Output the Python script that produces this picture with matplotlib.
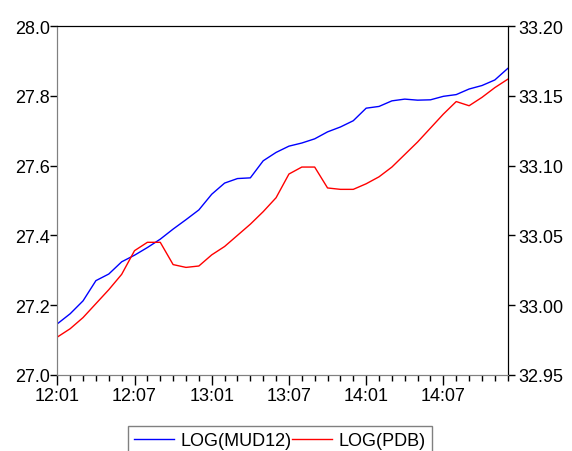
import matplotlib
matplotlib.use('Agg')
import matplotlib.pyplot as plt
from matplotlib.ticker import MultipleLocator, FormatStrFormatter

plt.rcParams['font.family'] = ['Liberation Sans', 'DejaVu Sans']

# periods 12:01 .. 14:12
periods = ['%d:%02d' % (y, m) for y in (12, 13, 14) for m in range(1, 13)]

mud12 = [27.146, 27.175, 27.212, 27.270, 27.289, 27.324, 27.343, 27.365, 27.389,
         27.418, 27.445, 27.473, 27.518, 27.550, 27.563, 27.565, 27.614, 27.638,
         27.656, 27.665, 27.677, 27.697, 27.711, 27.729, 27.765, 27.770, 27.786,
         27.791, 27.788, 27.789, 27.799, 27.804, 27.820, 27.830, 27.846, 27.879]

pdb = [32.977, 32.983, 32.991, 33.001, 33.011, 33.022, 33.039, 33.045, 33.045,
       33.029, 33.027, 33.028, 33.036, 33.042, 33.050, 33.058, 33.067, 33.077,
       33.094, 33.099, 33.099, 33.084, 33.083, 33.083, 33.087, 33.092, 33.099,
       33.108, 33.117, 33.127, 33.137, 33.146, 33.143, 33.149, 33.156, 33.162]

x = list(range(len(periods)))

fig = plt.figure(figsize=(5.72, 4.52), dpi=100)
ax = fig.add_axes([0.1002, 0.1688, 0.7874, 0.7708])
ax2 = ax.twinx()

l1, = ax.plot(x, mud12, color='#0000ff', lw=1.0, label='LOG(MUD12)')
l2, = ax2.plot(x, pdb, color='#ff0000', lw=1.0, label='LOG(PDB)')

ax.set_xlim(0, len(x) - 1)
ax.set_ylim(27.0, 28.0)
ax2.set_ylim(32.95, 33.20)
ax.yaxis.set_major_locator(MultipleLocator(0.2))
ax.yaxis.set_major_formatter(FormatStrFormatter('%.1f'))
ax2.yaxis.set_major_locator(MultipleLocator(0.05))
ax2.yaxis.set_major_formatter(FormatStrFormatter('%.2f'))

major = x[::6]
ax.set_xticks(major)
ax.set_xticklabels([periods[i] for i in major])
ax.set_xticks(x, minor=True)

fs = 13
ax.tick_params(axis='x', which='major', length=7, width=1, pad=1.5, labelsize=fs, direction='out')
ax.tick_params(axis='x', which='minor', length=4, width=1, direction='out')
ax.tick_params(axis='y', length=5, width=1, pad=0.5, labelsize=fs, direction='out')
ax2.tick_params(axis='y', length=5, width=1, pad=3, labelsize=fs, direction='out')

for a in (ax, ax2):
    a.spines['left'].set_color('#808080')
    a.spines['bottom'].set_color('#808080')
    a.spines['top'].set_color('black')
    a.spines['right'].set_color('black')

leg = fig.legend([l1, l2], ['LOG(MUD12)', 'LOG(PDB)'], loc='upper center',
                 bbox_to_anchor=(0.4895, 0.056), ncol=2, fontsize=fs,
                 frameon=True, fancybox=False, handlelength=2.2,
                 handletextpad=0.4, columnspacing=0.0, borderaxespad=0,
                 borderpad=0.35)
leg.get_frame().set_edgecolor('#606060')
leg.get_frame().set_linewidth(1.0)

fig.savefig('out.png', dpi=100)
